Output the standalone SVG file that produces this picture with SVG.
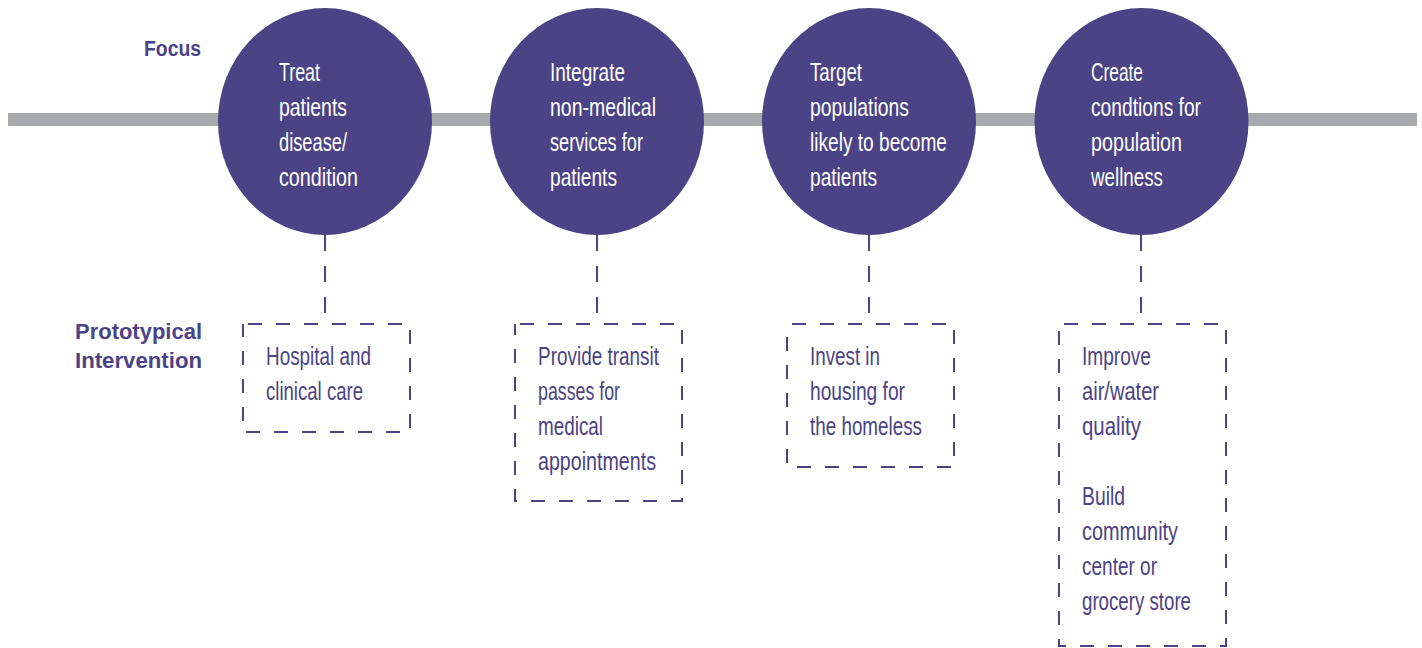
<svg xmlns="http://www.w3.org/2000/svg" width="1422" height="648" viewBox="0 0 1422 648">
<style>
.bar{fill:#a7a9ac}
.circ{fill:#4b4385}
.ct{font-family:"Liberation Sans",Arial,sans-serif;font-size:25.5px;fill:#ffffff}
.bt{font-family:"Liberation Sans",Arial,sans-serif;font-size:25.5px;fill:#4b4385}
.lbl{font-family:"Liberation Sans",Arial,sans-serif;font-weight:bold;fill:#4b4385}
.box{fill:none;stroke:#4b4385;stroke-width:2;stroke-dasharray:14 14;stroke-dashoffset:-5}
.conn{fill:none;stroke:#4b4385;stroke-width:2;stroke-dasharray:16 15}
</style>
<rect id="timeline" class="bar" x="8" y="113" width="1409" height="13"/>
<g id="labels">
<text class="lbl" x="201" y="56" font-size="22" text-anchor="end" textLength="57" lengthAdjust="spacingAndGlyphs">Focus</text>
<text class="lbl" x="202" y="339" font-size="22.5" text-anchor="end" textLength="127" lengthAdjust="spacingAndGlyphs">Prototypical</text>
<text class="lbl" x="202" y="368" font-size="22.5" text-anchor="end" textLength="127" lengthAdjust="spacingAndGlyphs">Intervention</text>
</g>
<g id="connectors">
<line class="conn" x1="325" y1="235" x2="325" y2="323"/>
<line class="conn" x1="597" y1="235" x2="597" y2="323"/>
<line class="conn" x1="869" y1="235" x2="869" y2="323"/>
<line class="conn" x1="1141" y1="235" x2="1141" y2="323"/>
</g>
<g id="focus1">
<ellipse class="circ" cx="325" cy="121.5" rx="107" ry="113.5"/>
<text class="ct" x="279" y="81" textLength="41" lengthAdjust="spacingAndGlyphs">Treat</text>
<text class="ct" x="279" y="116" textLength="68" lengthAdjust="spacingAndGlyphs">patients</text>
<text class="ct" x="279" y="151" textLength="68" lengthAdjust="spacingAndGlyphs">disease/</text>
<text class="ct" x="279" y="186" textLength="79" lengthAdjust="spacingAndGlyphs">condition</text>
</g>
<g id="focus2">
<ellipse class="circ" cx="597" cy="121.5" rx="107" ry="113.5"/>
<text class="ct" x="550" y="81" textLength="75" lengthAdjust="spacingAndGlyphs">Integrate</text>
<text class="ct" x="550" y="116" textLength="106" lengthAdjust="spacingAndGlyphs">non-medical</text>
<text class="ct" x="550" y="151" textLength="93" lengthAdjust="spacingAndGlyphs">services for</text>
<text class="ct" x="550" y="186" textLength="67" lengthAdjust="spacingAndGlyphs">patients</text>
</g>
<g id="focus3">
<ellipse class="circ" cx="869" cy="121.5" rx="107" ry="113.5"/>
<text class="ct" x="810" y="81" textLength="52" lengthAdjust="spacingAndGlyphs">Target</text>
<text class="ct" x="810" y="116" textLength="99" lengthAdjust="spacingAndGlyphs">populations</text>
<text class="ct" x="810" y="151" textLength="137" lengthAdjust="spacingAndGlyphs">likely to become</text>
<text class="ct" x="810" y="186" textLength="67" lengthAdjust="spacingAndGlyphs">patients</text>
</g>
<g id="focus4">
<ellipse class="circ" cx="1141.5" cy="121.5" rx="107" ry="113.5"/>
<text class="ct" x="1091" y="81" textLength="52" lengthAdjust="spacingAndGlyphs">Create</text>
<text class="ct" x="1091" y="116" textLength="110" lengthAdjust="spacingAndGlyphs">condtions for</text>
<text class="ct" x="1091" y="151" textLength="91" lengthAdjust="spacingAndGlyphs">population</text>
<text class="ct" x="1091" y="186" textLength="72" lengthAdjust="spacingAndGlyphs">wellness</text>
</g>
<g id="intervention1">
<rect class="box" x="243" y="324" width="167" height="108"/>
<text class="bt" x="266" y="365" textLength="105" lengthAdjust="spacingAndGlyphs">Hospital and</text>
<text class="bt" x="266" y="400" textLength="97" lengthAdjust="spacingAndGlyphs">clinical care</text>
</g>
<g id="intervention2">
<rect class="box" x="515" y="324" width="167" height="177"/>
<text class="bt" x="538" y="365" textLength="121" lengthAdjust="spacingAndGlyphs">Provide transit</text>
<text class="bt" x="538" y="400" textLength="82" lengthAdjust="spacingAndGlyphs">passes for</text>
<text class="bt" x="538" y="435" textLength="65" lengthAdjust="spacingAndGlyphs">medical</text>
<text class="bt" x="538" y="470" textLength="118" lengthAdjust="spacingAndGlyphs">appointments</text>
</g>
<g id="intervention3">
<rect class="box" x="787" y="324" width="167" height="143"/>
<text class="bt" x="810" y="365" textLength="70" lengthAdjust="spacingAndGlyphs">Invest in</text>
<text class="bt" x="810" y="400" textLength="95" lengthAdjust="spacingAndGlyphs">housing for</text>
<text class="bt" x="810" y="435" textLength="112" lengthAdjust="spacingAndGlyphs">the homeless</text>
</g>
<g id="intervention4">
<rect class="box" x="1059" y="324" width="167" height="322"/>
<text class="bt" x="1082" y="365" textLength="69" lengthAdjust="spacingAndGlyphs">Improve</text>
<text class="bt" x="1082" y="400" textLength="77" lengthAdjust="spacingAndGlyphs">air/water</text>
<text class="bt" x="1082" y="435" textLength="59" lengthAdjust="spacingAndGlyphs">quality</text>
<text class="bt" x="1082" y="505" textLength="43" lengthAdjust="spacingAndGlyphs">Build</text>
<text class="bt" x="1082" y="540" textLength="96" lengthAdjust="spacingAndGlyphs">community</text>
<text class="bt" x="1082" y="575" textLength="75" lengthAdjust="spacingAndGlyphs">center or</text>
<text class="bt" x="1082" y="610" textLength="109" lengthAdjust="spacingAndGlyphs">grocery store</text>
</g>
</svg>
